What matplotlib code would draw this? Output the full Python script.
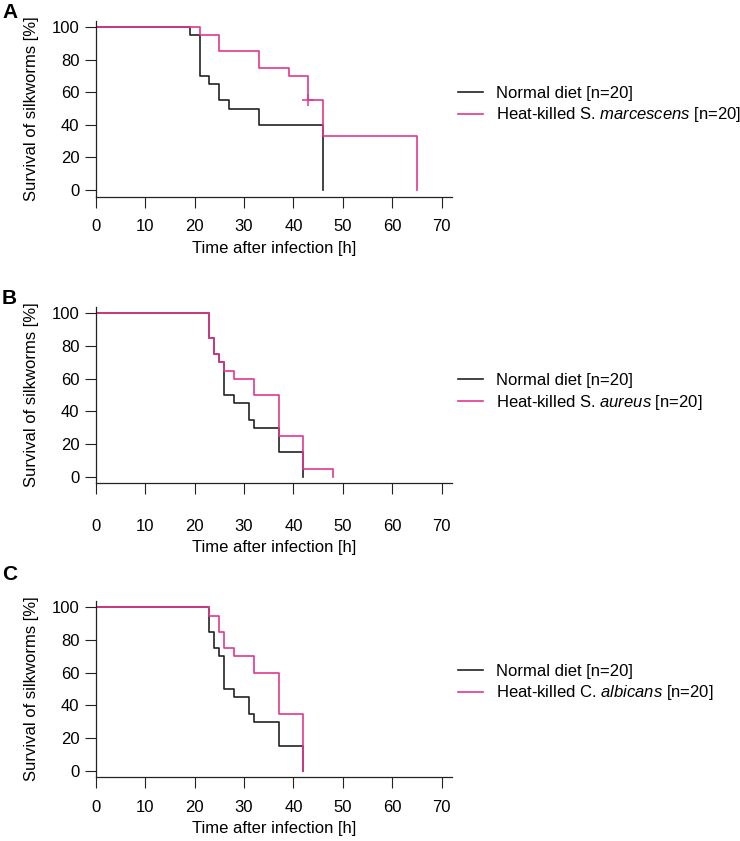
import matplotlib
matplotlib.use('Agg')
import matplotlib.pyplot as plt

plt.rcParams['font.family'] = ['Liberation Sans', 'DejaVu Sans']
plt.rcParams['mathtext.fontset'] = 'custom'
plt.rcParams['mathtext.rm'] = 'Liberation Sans'
plt.rcParams['mathtext.it'] = 'Liberation Sans:italic'

# survival curves, time [h] / survival [%]
a_normal_t = [0, 19, 21, 23, 25, 27, 33, 46]
a_normal_s = [100, 95, 70, 65, 55, 50, 40, 0]
a_heat_t = [0, 21, 25, 33, 39, 43, 46, 65]
a_heat_s = [100, 95, 85, 75, 70, 55, 33, 0]
a_censor_t = [43]
a_censor_s = [55]

b_normal_t = [0, 23, 24, 25, 26, 28, 31, 32, 37, 42]
b_normal_s = [100, 85, 75, 70, 50, 45, 35, 30, 15, 0]
b_heat_t = [0, 23, 24, 25, 26, 28, 32, 37, 42, 48]
b_heat_s = [100, 85, 75, 70, 65, 60, 50, 25, 5, 0]

c_normal_t = [0, 23, 24, 25, 26, 28, 31, 32, 37, 42]
c_normal_s = [100, 85, 75, 70, 50, 45, 35, 30, 15, 0]
c_heat_t = [0, 23, 25, 26, 28, 32, 37, 42]
c_heat_s = [100, 95, 85, 75, 70, 60, 35, 0]

x_ticks = [0, 10, 20, 30, 40, 50, 60, 70]
y_ticks = [0, 20, 40, 60, 80, 100]

normal_label = 'Normal diet [n=20]'
heat_labels = [r'Heat-killed S. $\it{marcescens}$ [n=20]',
               r'Heat-killed S. $\it{aureus}$ [n=20]',
               r'Heat-killed C. $\it{albicans}$ [n=20]']
letters = ['A', 'B', 'C']

PINK = '#e0388c'
W, H = 740, 841
fig = plt.figure(figsize=(7.4, 8.41), dpi=100)

# pixel layout of each panel: top, bottom of axes, letter y, legend y
tops = [20.5, 306.8, 600.8]
bottoms = [196.5, 483.2, 777.2]
letter_y = [12, 299, 574]
legend_y = [105, 392.5, 683]
xlab_off = [51.5, 64.5, 51.5]   # px below the axis line
xtick_pad = [8.4, 17.8, 8.4]
left, right = 95.7, 451.7

data = [(a_normal_t, a_normal_s, a_heat_t, a_heat_s),
        (b_normal_t, b_normal_s, b_heat_t, b_heat_s),
        (c_normal_t, c_normal_s, c_heat_t, c_heat_s)]

for i in range(3):
    nt, ns, ht, hs = data[i]
    h = bottoms[i] - tops[i]
    ax = fig.add_axes([left / W, 1 - bottoms[i] / H, (right - left) / W, h / H])
    ax.plot(nt, ns, drawstyle='steps-post', color='#222222', lw=1.2, label=normal_label)
    ax.plot(ht, hs, drawstyle='steps-post', color=PINK, lw=1.2, label=heat_labels[i])
    if i == 0:
        ax.plot(a_censor_t, a_censor_s, ls='none', marker='+', ms=8, mew=1.1, color=PINK)
    ax.set_xlim(0, 72)
    ax.set_ylim(-4, 104)
    ax.set_xticks(x_ticks)
    ax.set_yticks(y_ticks)
    for s in ['top', 'right']:
        ax.spines[s].set_visible(False)
    for s in ['left', 'bottom']:
        ax.spines[s].set_linewidth(0.9)
        ax.spines[s].set_color('#222222')
    ax.tick_params(direction='out', length=8, width=0.8, color='#222222', labelsize=12)
    ax.tick_params(axis='x', pad=xtick_pad[i])
    ax.tick_params(axis='y', pad=3.6)
    ax.text(0.5, -xlab_off[i] / h, 'Time after infection [h]', transform=ax.transAxes,
            ha='center', va='center', fontsize=12)
    ax.text(-0.18, 0.5, 'Survival of silkworms [%]', transform=ax.transAxes,
            ha='center', va='center', rotation=90, fontsize=12)
    ax.legend(loc='center left', bbox_to_anchor=(458 / W, 1 - legend_y[i] / H),
              bbox_transform=fig.transFigure, frameon=False, fontsize=12,
              handlelength=1.5, handletextpad=0.78, labelspacing=0.28,
              borderpad=0, borderaxespad=0)
    fig.text(2 / W, 1 - letter_y[i] / H, letters[i], fontsize=15, fontweight='bold',
             ha='left', va='center')

fig.savefig('out.png', dpi=100)
